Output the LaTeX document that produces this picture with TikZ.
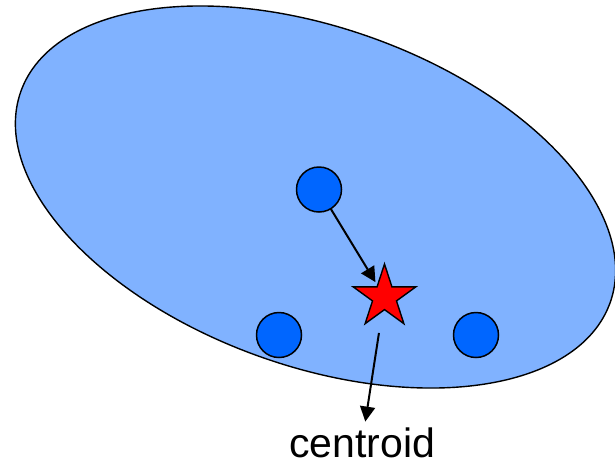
\documentclass[tikz,border=0pt]{standalone}
\usepackage{fontspec}
\setmainfont{Liberation Sans}
\usetikzlibrary{shapes.geometric,arrows.meta}
\definecolor{blobblue}{RGB}{128,178,255}
\definecolor{dotblue}{RGB}{0,102,255}
\begin{document}
\begin{tikzpicture}[x=0.5pt, y=-0.5pt,
    dot/.style={circle, draw, line width=0.75pt, fill=dotblue, outer sep=0, inner sep=0, minimum size=22.5pt},
    pointer/.style={line width=1pt, -{Triangle[length=7.5pt, width=7.5pt]}}]
        \useasboundingbox (0,0) rectangle (615,462);
%%% Start cluster
        \draw (315.5,197) node[ellipse, draw, line width=0.7pt, fill=blobblue, outer sep=0, inner sep=0, minimum width=313pt, minimum height=169pt, rotate=-19.75] (cluster) {};
%%% End cluster
%%% Start points
        \draw (319,189.5) node[dot] (p1) {};
        \draw (279,335) node[dot] (p2) {};
        \draw (476,335) node[dot] (p3) {};
%%% End points
%%% Start centroid
        \draw (384.5,297) node[star, star points=5, star point ratio=2.618, draw, line width=0.7pt, fill=red, outer sep=0, inner sep=0, minimum size=33pt] (ctr) {};
        \draw (362,443) node[inner sep=1.5pt, font=\fontsize{20.5}{24}\selectfont] (lbl) {centroid};
%%% End centroid
        \draw[pointer, shorten >=2pt] (p1) -- (ctr);
        \draw[pointer, shorten <=11pt, shorten >=1.5pt] (ctr) -- (lbl);
\end{tikzpicture}
\end{document}
